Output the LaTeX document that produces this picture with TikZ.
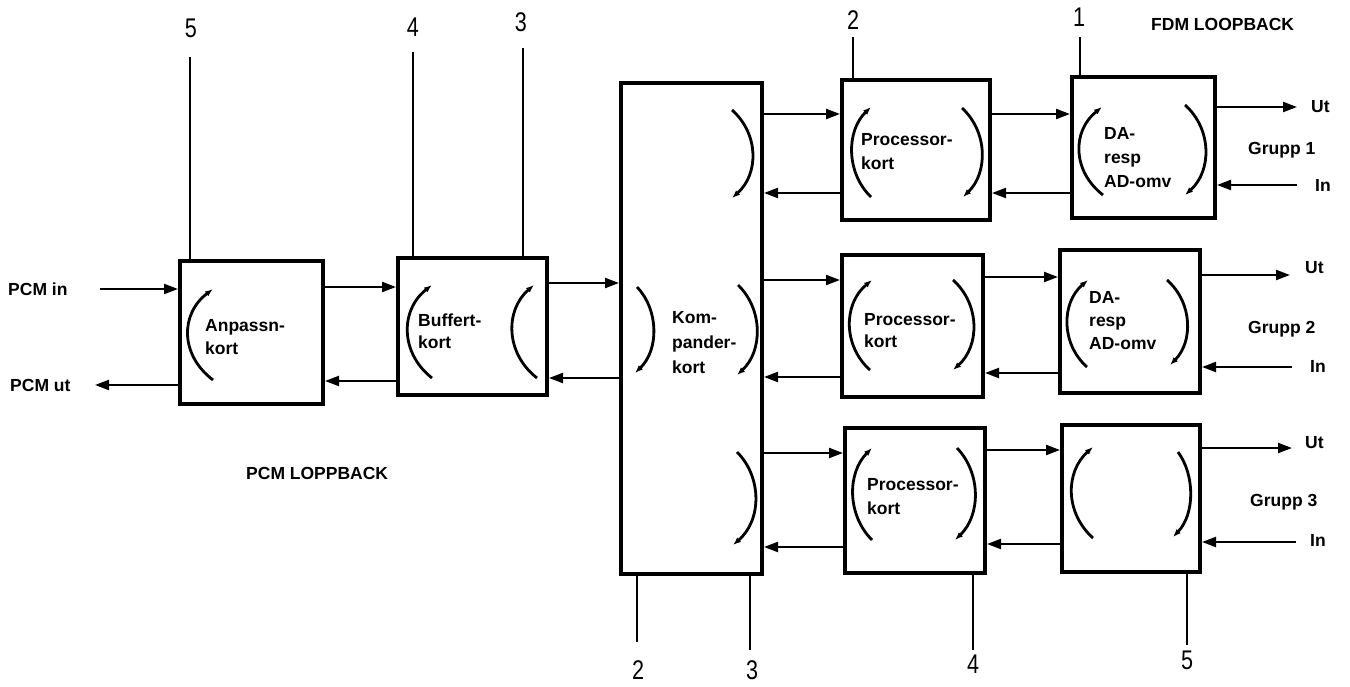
\documentclass[tikz,border=0pt]{standalone}
\usepackage{fontspec}
\setmainfont{Liberation Sans}
\usetikzlibrary{arrows.meta}
\begin{document}
\begin{tikzpicture}[x=1pt,y=-1pt,
  box/.style={draw, line width=4pt, inner sep=0pt},
  arr/.style={line width=2.2pt, -{Triangle[length=14pt,width=10pt]}},
  plain/.style={line width=2pt},
  arcl/.style={line width=2.8pt, -{Latex[length=8pt,width=6pt]}},
  txt/.style={font=\fontsize{17.5}{24}\selectfont\bfseries, inner sep=0pt, align=left, anchor=west},
  num/.style={font=\fontsize{27}{27}\selectfont, inner sep=0pt, xscale=0.8}]
\useasboundingbox (0,0) rectangle (1350,687);

% boxes
\node[box, minimum width=143pt, minimum height=143pt] (A)  at (251.5,332.5) {};
\node[box, minimum width=149pt, minimum height=137pt] (B)  at (472.5,326.5) {};
\node[box, minimum width=141pt, minimum height=491pt] (K)  at (691.5,328.5) {};
\node[box, minimum width=148pt, minimum height=140pt] (P1) at (916,150) {};
\node[box, minimum width=143pt, minimum height=141pt] (D1) at (1143.5,147.5) {};
\node[box, minimum width=141pt, minimum height=142pt] (P2) at (912.5,326) {};
\node[box, minimum width=140pt, minimum height=143pt] (D2) at (1130,321.5) {};
\node[box, minimum width=140pt, minimum height=145pt] (P3) at (915,500.5) {};
\node[box, minimum width=138pt, minimum height=147pt] (D3) at (1131,498.5) {};

% box texts
\node[txt, font=\fontsize{17.5}{23}\selectfont\bfseries] (tA) at (205,337) {Anpassn-\\kort};
\node[txt, font=\fontsize{17.5}{22}\selectfont\bfseries] (tB) at (418,331) {Buffert-\\kort};
\node[txt, font=\fontsize{17.5}{25}\selectfont\bfseries] (tK) at (672,343) {Kom-\\pander-\\kort};
\node[txt] (tP1) at (861,152) {Processor-\\kort};
\node[txt] (tD1) at (1104,158) {DA-\\resp\\AD-omv};
\node[txt, font=\fontsize{17.5}{22}\selectfont\bfseries] (tP2) at (864,331) {Processor-\\kort};
\node[txt, font=\fontsize{17.5}{23}\selectfont\bfseries] (tD2) at (1089,321) {DA-\\resp\\AD-omv};
\node[txt] (tP3) at (867,497) {Processor-\\kort};

% free labels
\node[txt] (pcmin)  at (8,289)  {PCM in};
\node[txt] (pcmut)  at (10,385) {PCM ut};
\node[txt] (pcmlb)  at (246,473) {PCM LOPPBACK};
\node[txt] (fdmlb)  at (1151,24) {FDM LOOPBACK};
\node[txt] (ut1) at (1311,107) {Ut};
\node[txt] (g1)  at (1248,150) {Grupp 1};
\node[txt] (in1) at (1315,185) {In};
\node[txt] (ut2) at (1305,268) {Ut};
\node[txt] (g2)  at (1248,329) {Grupp 2};
\node[txt] (in2) at (1310,366) {In};
\node[txt] (ut3) at (1305,443) {Ut};
\node[txt] (g3)  at (1250,502) {Grupp 3};
\node[txt] (in3) at (1310,540) {In};

% number labels
\node[num] (n5t) at (191,28) {5};
\node[num] (n4t) at (413,27) {4};
\node[num] (n3t) at (521,22) {3};
\node[num] (n2t) at (853,20) {2};
\node[num] (n1t) at (1079,17) {1};
\node[num] (n2b) at (638,670) {2};
\node[num] (n3b) at (752,670) {3};
\node[num] (n4b) at (973,664) {4};
\node[num] (n5b) at (1187,660) {5};

% free ends of lines
\coordinate (c5t) at (190,57);
\coordinate (c4t) at (413,52);
\coordinate (c3t) at (523,48);
\coordinate (c2t) at (853,37);
\coordinate (c1t) at (1080,37);
\coordinate (c2b) at (637,642);
\coordinate (c3b) at (750,650);
\coordinate (c4b) at (973,650);
\coordinate (c5b) at (1187,645);
\draw[plain] (c5t) -- (c5t |- A.north);
\draw[plain] (c4t) -- (c4t |- B.north);
\draw[plain] (c3t) -- (c3t |- B.north);
\draw[plain] (c2t) -- (c2t |- P1.north);
\draw[plain] (c1t) -- (c1t |- D1.north);
\draw[plain] (c2b) -- (c2b |- K.south);
\draw[plain] (c3b) -- (c3b |- K.south);
\draw[plain] (c4b) -- (c4b |- P3.south);
\draw[plain] (c5b) -- (c5b |- D3.south);

% PCM in/out
\coordinate (pin) at (100,289);
\coordinate (pout) at (95,385);
\draw[arr] (pin) -- (pin -| A.west);
\draw[arr] (A.west |- pout) -- (pout);

% connectors between boxes
\draw[arr] (A.east |- 0,287) -- (B.west |- 0,287);
\draw[arr] (B.west |- 0,381) -- (A.east |- 0,381);
\draw[arr] (B.east |- 0,283) -- (K.west |- 0,283);
\draw[arr] (K.west |- 0,378) -- (B.east |- 0,378);

\draw[arr] (K.east |- 0,114) -- (P1.west |- 0,114);
\draw[arr] (P1.west |- 0,193) -- (K.east |- 0,193);
\draw[arr] (K.east |- 0,280) -- (P2.west |- 0,280);
\draw[arr] (P2.west |- 0,377) -- (K.east |- 0,377);
\draw[arr] (K.east |- 0,453) -- (P3.west |- 0,453);
\draw[arr] (P3.west |- 0,547) -- (K.east |- 0,547);

\draw[arr] (P1.east |- 0,114) -- (D1.west |- 0,114);
\draw[arr] (D1.west |- 0,193) -- (P1.east |- 0,193);
\draw[arr] (P2.east |- 0,277) -- (D2.west |- 0,277);
\draw[arr] (D2.west |- 0,373) -- (P2.east |- 0,373);
\draw[arr] (P3.east |- 0,450) -- (D3.west |- 0,450);
\draw[arr] (D3.west |- 0,544) -- (P3.east |- 0,544);

% outputs / inputs of groups
\coordinate (u1) at (1297,107);
\coordinate (i1) at (1297,185);
\coordinate (u2) at (1290,275);
\coordinate (i2) at (1292,367);
\coordinate (u3) at (1292,448);
\coordinate (i3) at (1296,542);
\draw[arr] (D1.east |- u1) -- (u1);
\draw[arr] (i1) -- (i1 -| D1.east);
\draw[arr] (D2.east |- u2) -- (u2);
\draw[arr] (i2) -- (i2 -| D2.east);
\draw[arr] (D3.east |- u3) -- (u3);
\draw[arr] (i3) -- (i3 -| D3.east);

% loop arcs
\draw[arcl] (213,380) .. controls (180,355) and (180,314) .. (213,289);
\draw[arcl] (432,378) .. controls (400,353) and (400,310) .. (432,285);
\draw[arcl] (537,378) .. controls (505,353) and (505,310) .. (534,285);
\draw[arcl] (732,110) .. controls (759,134) and (759,174) .. (732,198);
\draw[arcl] (637,287) .. controls (659,310) and (659,350) .. (635,373);
\draw[arcl] (738,285) .. controls (763,309) and (763,351) .. (737,375);
\draw[arcl] (737,452) .. controls (762,477) and (762,520) .. (733,545);
\draw[arcl] (871,197) .. controls (846,173) and (846,131) .. (871,107);
\draw[arcl] (962,108) .. controls (988,132) and (988,173) .. (963,197);
\draw[arcl] (1103,195) .. controls (1072,171) and (1072,131) .. (1102,107);
\draw[arcl] (1185,105) .. controls (1212,129) and (1212,171) .. (1185,195);
\draw[arcl] (870,370) .. controls (843,346) and (843,304) .. (872,280);
\draw[arcl] (953,280) .. controls (980,304) and (980,346) .. (953,370);
\draw[arcl] (1087,367) .. controls (1061,344) and (1061,303) .. (1088,280);
\draw[arcl] (1167,280) .. controls (1193,303) and (1193,342) .. (1170,365);
\draw[arcl] (872,540) .. controls (847,515) and (847,473) .. (872,448);
\draw[arcl] (957,448) .. controls (981,473) and (981,515) .. (955,540);
\draw[arcl] (1093,538) .. controls (1065,513) and (1065,472) .. (1093,447);
\draw[arcl] (1178,452) .. controls (1195,475) and (1195,514) .. (1173,537);
\end{tikzpicture}
\end{document}
